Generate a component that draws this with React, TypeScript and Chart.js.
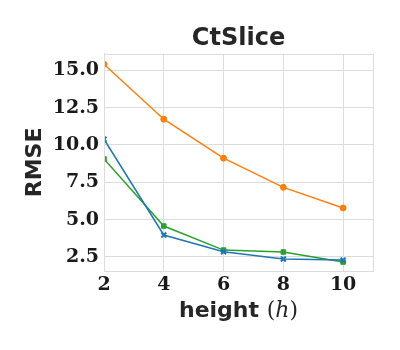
import React, { useEffect, useRef } from "react";
import { Chart, registerables } from "chart.js";

Chart.register(...registerables);

const heights = [2, 4, 6, 8, 10];
const blueValues = [10.38, 3.97, 2.85, 2.36, 2.29];
const orangeValues = [15.4, 11.72, 9.11, 7.16, 5.78];
const greenValues = [9.06, 4.57, 2.96, 2.83, 2.16];
const yTicks = [2.5, 5.0, 7.5, 10.0, 12.5, 15.0];
const xTicks = [2, 4, 6, 8, 10];
const xTitleParts = [
  { text: "height ", font: "bold 22px 'DejaVu Sans', sans-serif" },
  { text: "(", font: "22px 'DejaVu Serif', serif" },
  { text: "h", font: "italic 22px 'DejaVu Serif', serif" },
  { text: ")", font: "22px 'DejaVu Serif', serif" },
];

const GRID = "#dcdcdc";
const TXT = "#262626";

const framePlugin = {
  id: "frameAndXTitle",
  afterDraw(chart: any) {
    const { ctx, chartArea } = chart;
    ctx.save();
    ctx.strokeStyle = GRID;
    ctx.lineWidth = 1;
    ctx.strokeRect(
      Math.round(chartArea.left) + 0.5,
      Math.round(chartArea.top) + 0.5,
      Math.round(chartArea.right - chartArea.left),
      Math.round(chartArea.bottom - chartArea.top)
    );
    let total = 0;
    const widths = xTitleParts.map((p) => {
      ctx.font = p.font;
      const w = ctx.measureText(p.text).width;
      total += w;
      return w;
    });
    let x = (chartArea.left + chartArea.right) / 2 - total / 2;
    const y = 311;
    ctx.fillStyle = TXT;
    ctx.textBaseline = "middle";
    ctx.textAlign = "left";
    xTitleParts.forEach((p, i) => {
      ctx.font = p.font;
      ctx.fillText(p.text, x, y);
      x += widths[i];
    });
    ctx.restore();
  },
};

export default function App() {
  const ref = useRef<HTMLCanvasElement | null>(null);
  useEffect(() => {
    if (!ref.current) return;
    const mk = (vals: number[]) => heights.map((h, i) => ({ x: h, y: vals[i] }));
    const tickFont = { family: "'DejaVu Serif', serif", size: 19, weight: "bold" as const };
    const chart = new Chart(ref.current, {
      type: "line",
      data: {
        datasets: [
          {
            data: mk(blueValues),
            borderColor: "#1f77b4",
            backgroundColor: "#1f77b4",
            pointStyle: "crossRot",
            pointRadius: 3.5,
            pointBorderWidth: 2,
            borderWidth: 1.5,
          },
          {
            data: mk(orangeValues),
            borderColor: "#ff7f0e",
            backgroundColor: "#ff7f0e",
            pointStyle: "circle",
            pointRadius: 3,
            pointBorderWidth: 1,
            borderWidth: 1.5,
          },
          {
            data: mk(greenValues),
            borderColor: "#2ca02c",
            backgroundColor: "#2ca02c",
            pointStyle: "rect",
            pointRadius: 3.2,
            pointBorderWidth: 1,
            borderWidth: 1.5,
          },
        ],
      },
      options: {
        animation: false,
        responsive: false,
        layout: { padding: { left: 0, right: 27, top: 0, bottom: 19 } },
        plugins: {
          legend: { display: false },
          tooltip: { enabled: false },
          title: {
            display: true,
            fullSize: false,
            text: "CtSlice",
            color: TXT,
            font: { family: "'DejaVu Sans', sans-serif", size: 24, weight: "bold" },
            padding: { top: 24, bottom: 1 },
          },
        },
        scales: {
          x: {
            type: "linear",
            min: 2,
            max: 11,
            afterBuildTicks: (s: any) => {
              s.ticks = xTicks.map((v) => ({ value: v }));
            },
            afterFit: (s: any) => {
              s.height = 60;
            },
            grid: { color: GRID, drawTicks: false, tickLength: 0 },
            border: { color: GRID, width: 1 },
            ticks: { color: "#1a1a1a", font: tickFont, padding: 3, maxRotation: 0 },
            title: { display: false },
          },
          y: {
            type: "linear",
            min: 1.56,
            max: 16.1,
            afterBuildTicks: (s: any) => {
              s.ticks = yTicks.map((v) => ({ value: v }));
            },
            afterFit: (s: any) => {
              s.width = 104;
            },
            grid: { color: GRID, drawTicks: false, tickLength: 0 },
            border: { color: GRID, width: 1 },
            ticks: {
              color: "#1a1a1a",
              font: tickFont,
              padding: 5,
              callback: (v: any) => Number(v).toFixed(1),
            },
            title: {
              display: true,
              text: "RMSE",
              color: TXT,
              font: { family: "'DejaVu Sans', sans-serif", size: 22, weight: "bold" },
              padding: { top: 22, bottom: 0 },
            },
          },
        },
      },
      plugins: [framePlugin],
    });
    return () => chart.destroy();
  }, []);
  return (
    <div style={{ position: "absolute", left: 0, top: 0, width: 400, height: 350, background: "#fff" }}>
      <canvas ref={ref} width={400} height={350} />
    </div>
  );
}
